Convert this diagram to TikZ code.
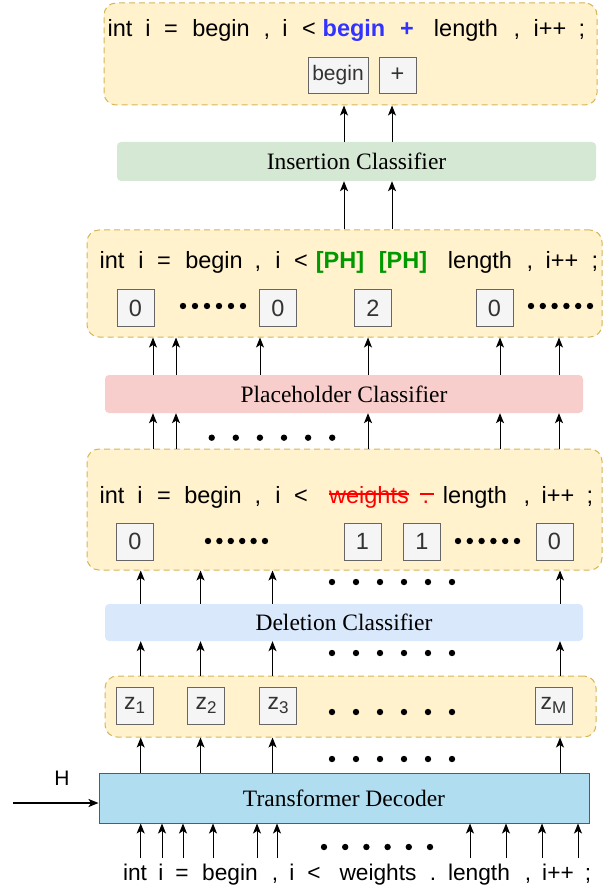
\documentclass[tikz,border=0pt]{standalone}
\usepackage{fontspec}
\setmainfont{Liberation Serif}
\newfontfamily\codefont{Liberation Sans}
\usetikzlibrary{%
    arrows.meta,
    calc
}

\definecolor{seqFill}{HTML}{FFF2CC}
\definecolor{seqLine}{HTML}{D6B656}
\definecolor{cellFill}{HTML}{F5F5F5}
\definecolor{cellLine}{HTML}{666666}
\definecolor{cellText}{HTML}{333333}
\definecolor{insFill}{HTML}{D5E8D4}
\definecolor{phFill}{HTML}{F8CECC}
\definecolor{delFill}{HTML}{DAE8FC}
\definecolor{decFill}{HTML}{B1DDF0}
\definecolor{decLine}{HTML}{10739E}
\definecolor{insText}{HTML}{3333FF}
\definecolor{phText}{HTML}{009900}

\newcommand\zsub[1]{\raisebox{-4.3pt}{\fontsize{17}{17}\selectfont #1}}

\tikzset{
    seq/.style={draw=seqLine, fill=seqFill, line width=1pt,
                dash pattern=on 6pt off 4pt, rounded corners=12pt},
    cls/.style={fill=#1, rounded corners=4pt, inner sep=0pt,
                minimum width=478pt, minimum height=38pt,
                font=\fontsize{23.5}{28}\selectfont},
    cell/.style={draw=cellLine, fill=cellFill, line width=0.8pt, inner sep=0pt,
                 minimum width=37pt, minimum height=37pt, text=cellText,
                 font=\codefont\fontsize{23.5}{28}\selectfont},
    tok/.style={anchor=base, inner sep=0pt,
                font=\codefont\fontsize{23.5}{28}\selectfont},
    newtok/.style={tok, text=#1,
                   font=\codefont\bfseries\fontsize{23.5}{28}\selectfont},
    strike/.style={red, line width=1.3pt},
    arr/.style={-{Stealth[length=10pt,width=8pt,inset=2.5pt]}, line width=1pt},
}

\begin{document}
\begin{tikzpicture}[x=1pt, y=-1pt]
    \useasboundingbox (0,0) rectangle (613,890);

    % sequence boxes
    \node[seq, minimum width=493pt, minimum height=102pt] (insBox) at (350.5,54)    {};
    \node[seq, minimum width=515pt, minimum height=107pt] (phBox)  at (344.5,283.5) {};
    \node[seq, minimum width=515pt, minimum height=121pt] (delBox) at (344.5,509.5) {};
    \node[seq, minimum width=491pt, minimum height=61pt]  (zBox)   at (350.5,706.5) {};

    % classifiers and decoder
    \node[cls=insFill, minimum width=479pt, minimum height=39pt] (ins) at (356.5,161.5) {Insertion Classifier};
    \node[cls=phFill]                          (ph)  at (344,394)   {Placeholder Classifier};
    \node[cls=delFill, minimum height=37pt]    (del) at (344,622.5) {Deletion Classifier};
    \node[draw=decLine, fill=decFill, line width=1pt, inner sep=0pt,
          minimum width=490pt, minimum height=50pt,
          font=\fontsize{23.5}{28}\selectfont] (dec) at (344,798) {Transformer Decoder};

    % insertion output
    \foreach \x/\t [count=\i] in {120/int, 148/i, 171/=, 221/begin, 267/{,}, 285/i,
                                  309/<, 466/length, 517/{,}, 550/i++, 582/;}
        \node[tok] (ins-\i) at (\x,36.5) {\t};
    \node[newtok=insText] (insNew1) at (354,36.5) {begin};
    \node[newtok=insText] (insNew2) at (407,36.5) {+};
    \node[cell, minimum width=60pt, minimum height=36pt,
          font=\codefont\fontsize{21}{24}\selectfont] (cBegin) at (338,75) {begin};
    \node[cell, minimum height=36pt] (cPlus) at (397.5,75) {+};

    % placeholder output
    \foreach \x/\t [count=\i] in {112/int, 141/i, 164/=, 214/begin, 258/{,}, 278/i,
                                  301/<, 480/length, 530/{,}, 562/i++, 595/;}
        \node[tok] (ph-\i) at (\x,269) {\t};
    \node[newtok=phText] (phNew1) at (340,269) {[PH]};
    \node[newtok=phText] (phNew2) at (403,269) {[PH]};
    \foreach \x/\v [count=\i] in {135.5/0, 278/0, 373/2, 494.5/0}
        \node[cell] (phCell-\i) at (\x,308) {\v};
    \foreach \k in {0,...,5} {
        \fill ({183+12*\k},306) circle (3.2pt);
        \fill ({531+11.8*\k},306) circle (3.2pt);
    }

    % deletion output
    \foreach \x/\t [count=\i] in {112/int, 140/i, 164/=, 213/begin, 258/{,}, 278/i,
                                  301/<, 475/length, 527/{,}, 558/i++, 590/;}
        \node[tok] (del-\i) at (\x,503) {\t};
    \node[tok, text=red] (delW) at (369,503) {weights};
    \node[tok, text=red] (delDot) at (426,503) {.};
    \draw[strike] ([yshift=9pt]delW.base west) -- ([yshift=9pt]delW.base east);
    \draw[strike] ([xshift=-3pt,yshift=9pt]delDot.base west) -- ([xshift=5pt,yshift=9pt]delDot.base east);
    \foreach \x/\v [count=\i] in {135/0, 362.5/1, 422/1, 554.5/0}
        \node[cell] (delCell-\i) at (\x,541.5) {\v};
    \foreach \k in {0,...,5} {
        \fill ({208+11.4*\k},541) circle (3.2pt);
        \fill ({458+11.8*\k},541) circle (3.2pt);
    }

    % decoder states
    \foreach \x/\v [count=\i] in {134.5/1, 206/2, 278/3, 553.5/M}
        \node[cell, font=\codefont\fontsize{23}{28}\selectfont] (z-\i) at (\x,705.5) {z\zsub{\v}};

    % input tokens
    \foreach \x/\t [count=\i] in {135/int, 161/i, 182/=, 230/begin, 275/{,}, 292/i, 314/<,
                                  378/weights, 433/., 479/length, 528/{,}, 558/i++, 588/;}
        \node[tok, font=\codefont\fontsize{22.7}{27}\selectfont] (in-\i) at (\x,880) {\t};

    % arrows
    \foreach \x in {344,392} {
        \draw[arr] (ins.north -| \x,0) -- (insBox.south -| \x,0);
        \draw[arr] (phBox.north -| \x,0) -- (ins.south -| \x,0);
    }
    \foreach \x in {153,176,260,368,500,559}
        \draw[arr] (ph.north -| \x,0) -- (phBox.south -| \x,0);
    \foreach \x in {153,176,368,500,559}
        \draw[arr] (delBox.north -| \x,0) -- (ph.south -| \x,0);
    \foreach \x in {140.7,200.5,272.5,560} {
        \draw[arr] (del.north -| \x,0) -- (delBox.south -| \x,0);
        \draw[arr] (zBox.north -| \x,0) -- (del.south -| \x,0);
        \draw[arr] (dec.north -| \x,0) -- (zBox.south -| \x,0);
    }
    \foreach \x in {140.7,162,183,213,257,277,470,506,542,578}
        \draw[arr] (\x,858) -- (dec.south -| \x,0);

    \coordinate (hIn) at (13,803);
    \node[tok, anchor=center, font=\codefont\fontsize{21}{24}\selectfont] (hLbl) at (62,778) {H};
    \draw[arr, line width=2.2pt] (hIn) -- (hIn -| dec.west);

    % spaced dots
    \foreach \k in {0,...,5} {
        \fill ({211.7+24.1*\k},437.7) circle (3.2pt);
        \foreach \y in {582,653,712,759}
            \fill ({332+24*\k},\y) circle (3.2pt);
        \fill ({324+21.2*\k},847) circle (3.2pt);
    }
\end{tikzpicture}
\end{document}
